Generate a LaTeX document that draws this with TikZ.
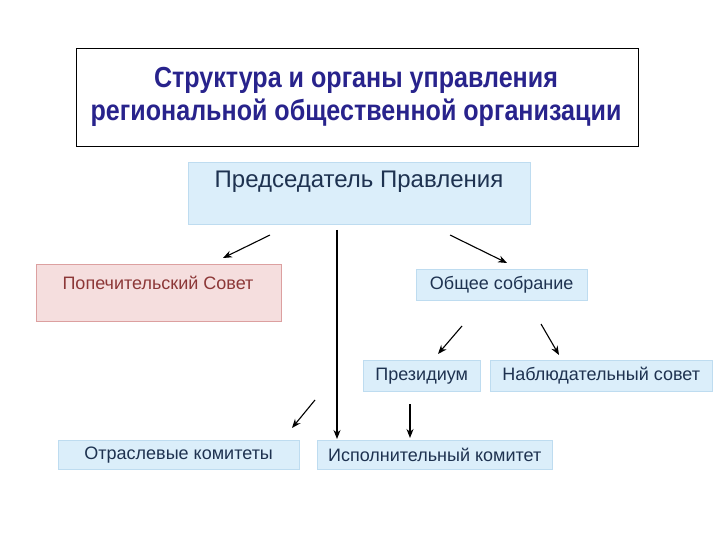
\documentclass[tikz,border=0pt]{standalone}
\usepackage{fontspec}
\setmainfont{Liberation Sans}
\usetikzlibrary{arrows.meta}
\begin{document}
\begin{tikzpicture}[x=1pt,y=-1pt,
 bl/.style={draw={rgb,255:red,190;green,220;blue,240}, fill={rgb,255:red,219;green,238;blue,250}, inner sep=0pt, anchor=north west},
 bt/.style={text={rgb,255:red,30;green,50;blue,80}, font=\fontsize{18}{20}\selectfont},
 arr/.style={-{Stealth[length=9pt,width=7pt]}, line width=1.1pt}]
\useasboundingbox (0,0) rectangle (720,540);
\node[draw=black, line width=0.8pt, minimum width=562pt, minimum height=98pt, anchor=north west, inner sep=0pt] (t) at (76,48) {};
\node[text={rgb,255:red,40;green,35;blue,140}, font=\bfseries\fontsize{29}{33}\selectfont, align=center, xscale=0.865] (tt) at (356,97) {Структура и  органы управления\\региональной  общественной  организации};
\node[bl, minimum width=342pt, minimum height=62pt] (ch) at (188,162) {};
\node[bt, font=\fontsize{24}{26}\selectfont] (cht) at (359,182) {Председатель Правления};
\node[draw={rgb,255:red,220;green,160;blue,160}, fill={rgb,255:red,245;green,222;blue,222}, minimum width=245pt, minimum height=57pt, anchor=north west, inner sep=0pt] (pc) at (36,264) {};
\node[bt, text={rgb,255:red,140;green,55;blue,55}] (pct) at (158,283) {Попечительский Совет};
\node[bl, minimum width=171pt, minimum height=31pt] (os) at (416,269) {};
\node[bt] at (os.center) {Общее собрание};
\node[bl, minimum width=117pt, minimum height=31pt] (pr) at (363,360) {};
\node[bt] at (pr.center) {Президиум};
\node[bl, minimum width=222pt, minimum height=31pt] (ns) at (490,360) {};
\node[bt] at (ns.center) {Наблюдательный совет};
\node[bl, minimum width=241pt, minimum height=29pt] (ok) at (58,440) {};
\node[bt] at (ok.center) {Отраслевые комитеты};
\node[bl, minimum width=235pt, minimum height=29pt] (ik) at (317,440) {};
\node[bt] at (ik.center) {Исполнительный комитет};
\coordinate (a1) at (270,235); \coordinate (b1) at (223,258);
\coordinate (a2) at (450,235); \coordinate (b2) at (507,263);
\coordinate (a3) at (337,230); \coordinate (b3) at (337,439);
\coordinate (a4) at (462,326); \coordinate (b4) at (438,354);
\coordinate (a5) at (541,324); \coordinate (b5) at (559,355);
\coordinate (a6) at (315,400); \coordinate (b6) at (292,428);
\coordinate (a7) at (410,404); \coordinate (b7) at (410,438);
\foreach \i in {1,...,7} \draw[arr] (a\i) -- (b\i);
\end{tikzpicture}
\end{document}
